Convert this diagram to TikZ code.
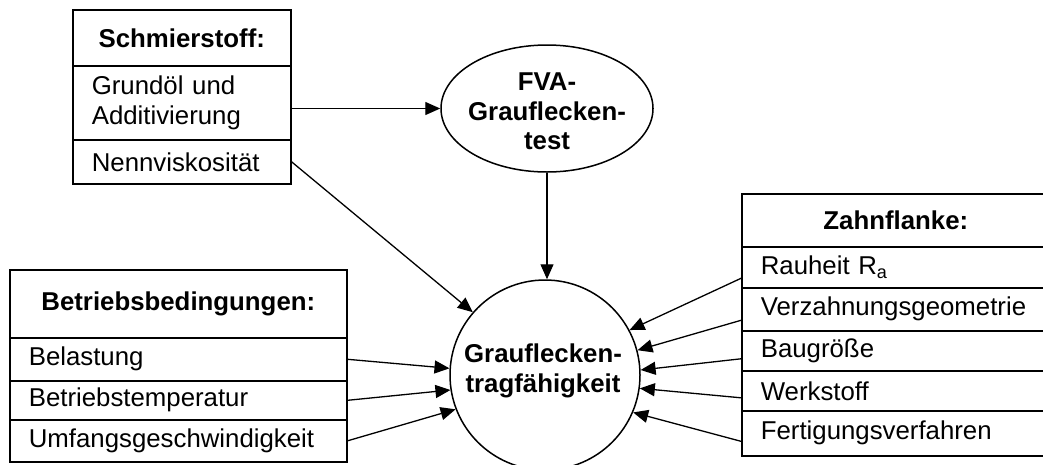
\documentclass[tikz,border=0pt]{standalone}
\usepackage{fontspec}
\setmainfont{Liberation Sans}
\usetikzlibrary{arrows.meta,shapes.geometric,calc}
\hyphenpenalty=10000
\exhyphenpenalty=10000
\begin{document}
\begin{tikzpicture}[x=1pt,y=-1pt,
  every node/.style={font=\fontsize{25.8}{29.5}\selectfont},
  cell/.style={draw, line width=1.6pt, rectangle, anchor=north west, inner xsep=19pt, inner ysep=0pt, align=left},
  head/.style={cell, align=center, font=\fontsize{25.8}{29.5}\selectfont\bfseries},
  btext/.style={align=center, inner sep=0pt, font=\fontsize{25.8}{29.5}\selectfont\bfseries},
  arr/.style={line width=1.3pt, -{Triangle[length=15pt,width=13pt]}},
  shapeline/.style={draw, line width=1.5pt, inner sep=0pt},
]
\useasboundingbox (0,0) rectangle (1043,464);

% Schmierstoff
\node[head, text width=180pt, minimum height=56pt] (s0) at (72,9) {Schmierstoff:};
\node[cell, text width=180pt, minimum height=74pt] (s1) at (72,65) {Grundöl und\\Additivierung};
\node[cell, text width=180pt, minimum height=44pt] (s2) at (72,139) {Nennviskosität};

% Betriebsbedingungen
\node[head, text width=299pt, minimum height=68pt] (b0) at (9,269) {Betriebsbedingungen:};
\node[cell, text width=299pt, minimum height=43pt] (b1) at (9,337) {Belastung};
\node[cell, text width=299pt, minimum height=39pt] (b2) at (9,380) {Betriebstemperatur};
\node[cell, text width=299pt, minimum height=42pt] (b3) at (9,419) {Umfangsgeschwindigkeit};

% Zahnflanke
\node[head, text width=270pt, minimum height=53pt] (z0) at (741,193) {Zahnflanke:};
\node[cell, text width=270pt, minimum height=41pt] (z1) at (741,246) {Rauheit R\textsubscript{a}};
\node[cell, text width=270pt, minimum height=43pt] (z2) at (741,287) {Verzahnungsgeometrie};
\node[cell, text width=270pt, minimum height=40pt] (z3) at (741,330) {Baugröße};
\node[cell, text width=270pt, minimum height=40pt] (z4) at (741,370) {Werkstoff};
\node[cell, text width=270pt, minimum height=45pt] (z5) at (741,410) {Fertigungsverfahren};

% FVA ellipse
\node[shapeline, ellipse, minimum width=212pt, minimum height=127pt] (fva) at (547,108.5) {};
\node[btext] (fvat) at (547,111.5) {FVA-\\Grauflecken-\\test};

% central circle
\node[shapeline, circle, minimum size=190pt] (c) at (545,375) {};
\node[btext] (ct) at (543,371) {Grauflecken-\\tragfähigkeit};

% arrows
\draw[arr] (fva.west -| s1.east) -- (fva.west);
\draw[arr] (s2.east) -- (c.139);
\draw[arr] (fva.south) -- (fva.south |- c.north);

\draw[arr] (b1.east) -- (c.176);
\draw[arr] (b2.east) -- (c.-171);
\draw[arr] (b3.east) -- (c.-159);

\draw[arr] ([yshift=-11pt]z1.west) -- (c.28);
\draw[arr] ([yshift=-11pt]z2.west) -- (c.15);
\draw[arr] ([yshift=-8pt]z3.west) -- (c.3);
\draw[arr] ([yshift=-7pt]z4.west) -- (c.-8.5);
\draw[arr] ([yshift=-8pt]z5.west) -- (c.-23);
\end{tikzpicture}
\end{document}
